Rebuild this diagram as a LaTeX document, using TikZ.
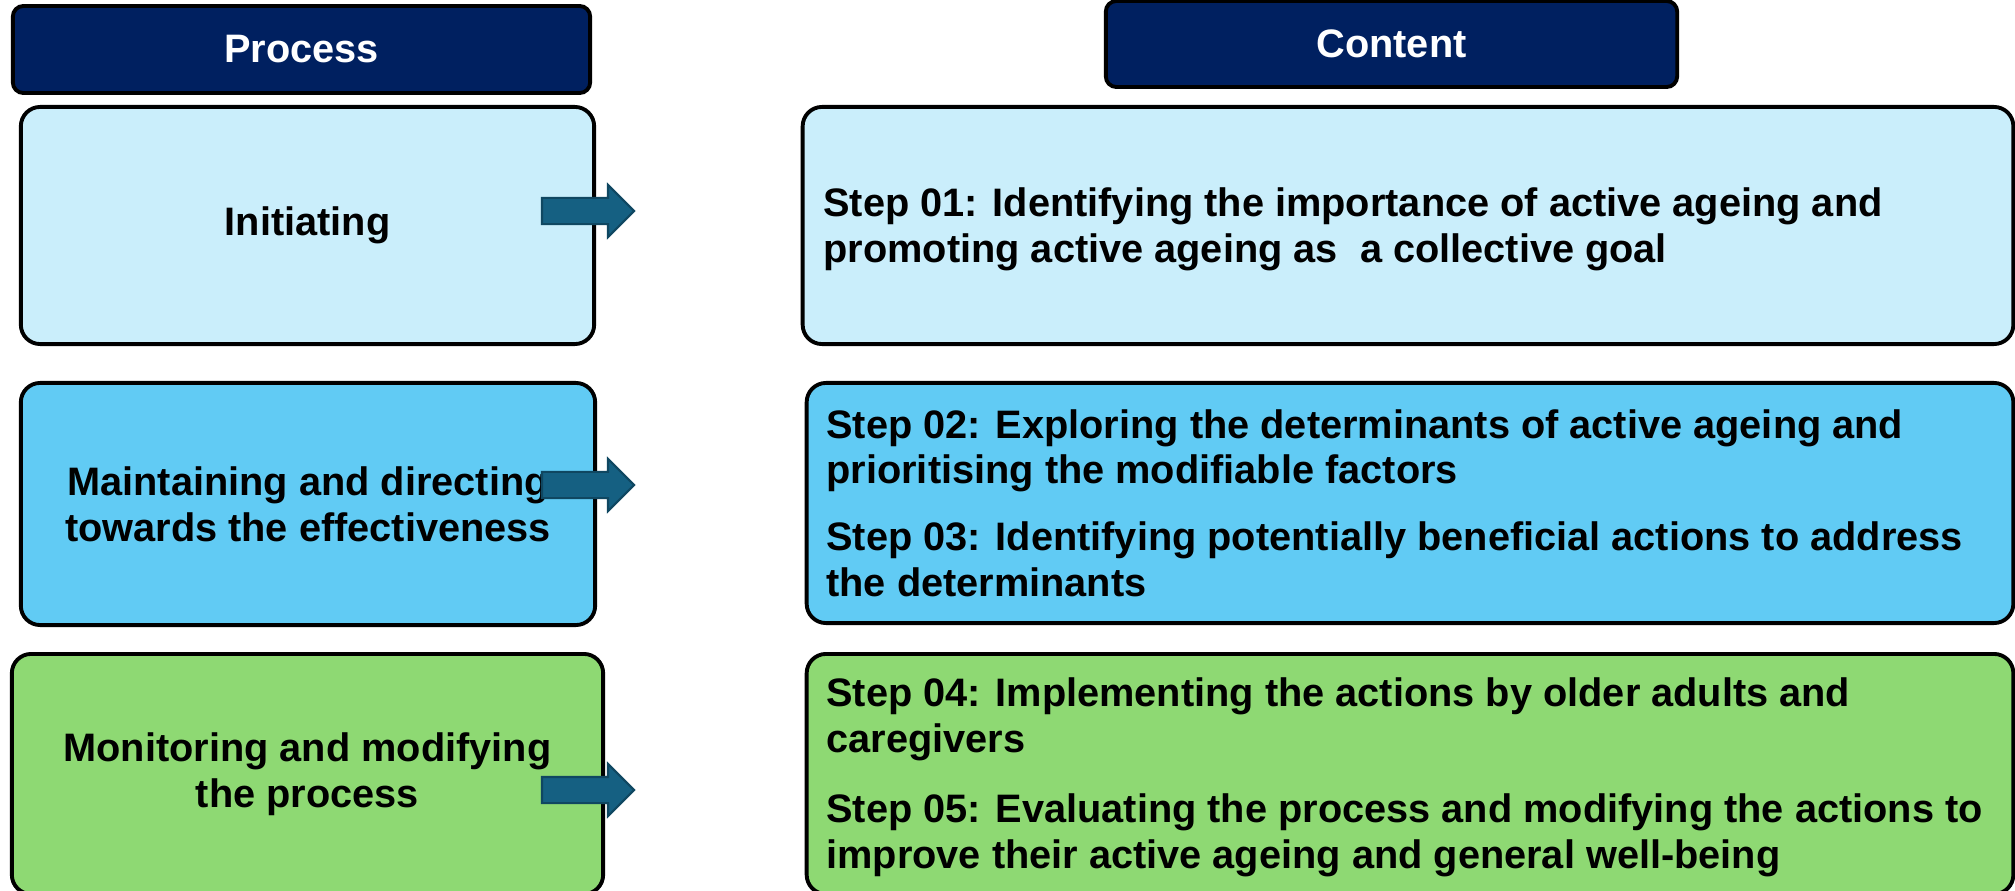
\documentclass[tikz,border=0pt]{standalone}
\usepackage{fontspec}
\setmainfont{Liberation Sans}
\usetikzlibrary{positioning,shapes.arrows}
\definecolor{navy}{HTML}{002060}
\definecolor{paleblue}{HTML}{CAEEFB}
\definecolor{skyblue}{HTML}{61CBF4}
\definecolor{leafgreen}{HTML}{8ED973}
\definecolor{arrowblue}{HTML}{156082}
\definecolor{arrowedge}{HTML}{0F4761}

\begin{document}
\begin{tikzpicture}[x=0.01cm,y=-0.01cm,
  font=\fontsize{11.3}{13}\selectfont\bfseries,
  headbox/.style={draw=black,line width=1.1pt,rounded corners=3pt,fill=navy,text=white},
  stagebox/.style={draw=black,line width=1.1pt,rounded corners=5.5pt,align=center},
  stepbox/.style={draw=black,line width=1.1pt,rounded corners=5.5pt},
  steptext/.style={anchor=west,align=left,inner sep=0pt},
  blockarrow/.style={single arrow,fill=arrowblue,draw=arrowedge,line width=0.6pt,
      inner xsep=0pt,inner ysep=0.12cm,single arrow head extend=0.13cm,
      minimum height=0.92cm}]
\useasboundingbox (0,0) rectangle (2015,891);

% column heads
\node[headbox,minimum width=5.77cm,minimum height=0.87cm] (hproc) at (301.5,49.5) {Process};
\node[headbox,minimum width=5.71cm,minimum height=0.86cm] (hcont) at (1391.5,44) {Content};

% process column
\node[stagebox,fill=paleblue,minimum width=5.73cm,minimum height=2.37cm] (init) at (307.5,225.5)
  {\raisebox{-4pt}{Initiating}};
\node[stagebox,fill=skyblue,minimum width=5.74cm,minimum height=2.42cm] (maint) at (308,504)
  {Maintaining and directing\\towards the effectiveness};
\node[stagebox,fill=leafgreen,minimum width=5.91cm,minimum height=2.40cm] (monit) at (307.5,774)
  {Monitoring and modifying\\the process};

% content column
\node[stepbox,fill=paleblue,minimum width=12.10cm,minimum height=2.37cm] (c1) at (1408,225.5) {};
\node[stepbox,fill=skyblue,minimum width=12.06cm,minimum height=2.40cm] (c2) at (1410,503) {};
\node[stepbox,fill=leafgreen,minimum width=12.06cm,minimum height=2.40cm] (c3) at (1410,774) {};

\node[steptext] (s1) at ([xshift=0.22cm,yshift=-0.04cm]c1.west)
  {Step 01: Identifying the importance of active ageing and\\promoting active ageing as\ \ a collective goal};
\node[steptext] (s23) at ([xshift=0.21cm]c2.west)
  {Step 02: Exploring the determinants of active ageing and\\prioritising the modifiable factors\\[6pt]
   Step 03: Identifying potentially beneficial actions to address\\the determinants};
\node[steptext] (s45) at ([xshift=0.21cm,yshift=-0.03cm]c3.west)
  {Step 04: Implementing the actions by older adults and\\caregivers\\[7pt]
   Step 05: Evaluating the process and modifying the actions to\\improve their active ageing and general well-being};

% block arrows
\node[blockarrow] (a1) at (581.5,211) {};
\node[blockarrow] (a2) at (581.5,485) {};
\node[blockarrow] (a3) at (581.5,790) {};
\end{tikzpicture}
\end{document}
